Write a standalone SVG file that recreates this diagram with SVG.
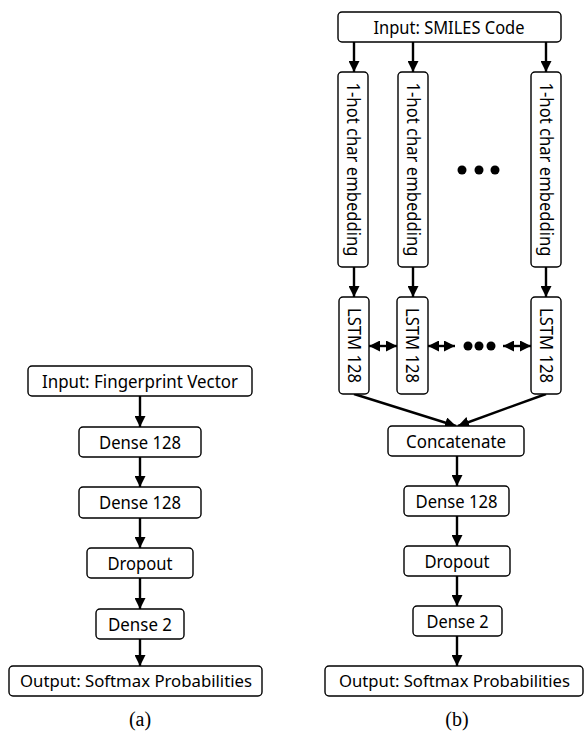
<svg xmlns="http://www.w3.org/2000/svg" width="585" height="737" viewBox="0 0 585 737">
<style>
.box{fill:#fff;stroke:#000;stroke-width:1.4}
.t{font-family:"Noto Sans","DejaVu Sans",sans-serif;font-size:18px;fill:#000;text-anchor:middle}
.o{font-size:16.5px}
.cap{font-family:"Liberation Serif","Times New Roman",serif;font-size:20px;fill:#000;text-anchor:middle}
.c{stroke:#000;stroke-width:2.4;fill:none}
</style>
<defs>
<marker id="ah" markerUnits="userSpaceOnUse" markerWidth="11" markerHeight="11" refX="10" refY="5" orient="auto-start-reverse" viewBox="0 0 10 10">
<path d="M0,0 L10,5 L0,10 z" fill="#000"/>
</marker>
</defs>
<rect width="585" height="737" fill="#fff"/>
<g id="connectors">
<line class="c" x1="140" y1="396" x2="140" y2="427" marker-end="url(#ah)"/>
<line class="c" x1="140" y1="457" x2="140" y2="487" marker-end="url(#ah)"/>
<line class="c" x1="140" y1="518" x2="140" y2="548" marker-end="url(#ah)"/>
<line class="c" x1="140" y1="578" x2="140" y2="609" marker-end="url(#ah)"/>
<line class="c" x1="140" y1="639" x2="140" y2="666" marker-end="url(#ah)"/>
<line class="c" x1="354" y1="42" x2="354" y2="72" marker-end="url(#ah)"/>
<line class="c" x1="413" y1="42" x2="413" y2="72" marker-end="url(#ah)"/>
<line class="c" x1="546" y1="42" x2="546" y2="72" marker-end="url(#ah)"/>
<line class="c" x1="354" y1="267" x2="354" y2="297" marker-end="url(#ah)"/>
<line class="c" x1="413" y1="267" x2="413" y2="297" marker-end="url(#ah)"/>
<line class="c" x1="546" y1="267" x2="546" y2="297" marker-end="url(#ah)"/>
<line class="c" x1="369" y1="346" x2="397" y2="346" marker-start="url(#ah)" marker-end="url(#ah)"/>
<line class="c" x1="428" y1="346" x2="455" y2="346" marker-start="url(#ah)" marker-end="url(#ah)"/>
<line class="c" x1="503" y1="346" x2="531" y2="346" marker-start="url(#ah)" marker-end="url(#ah)"/>
<line class="c" x1="354" y1="394" x2="456" y2="426" marker-end="url(#ah)"/>
<line class="c" x1="546" y1="394" x2="458" y2="426" marker-end="url(#ah)"/>
<line class="c" x1="457" y1="456" x2="457" y2="486" marker-end="url(#ah)"/>
<line class="c" x1="457" y1="516" x2="457" y2="546" marker-end="url(#ah)"/>
<line class="c" x1="457" y1="576" x2="457" y2="606" marker-end="url(#ah)"/>
<line class="c" x1="457" y1="636" x2="457" y2="666" marker-end="url(#ah)"/>
</g>
<g id="dots">
<circle cx="462" cy="170" r="4.5"/><circle cx="479" cy="170" r="4.5"/><circle cx="495" cy="170" r="4.5"/>
<circle cx="468" cy="346" r="4.5"/><circle cx="479" cy="346" r="4.5"/><circle cx="491" cy="346" r="4.5"/>
</g>
<g id="a_input"><rect class="box" x="28" y="366" width="224" height="30" rx="4"/><text class="t" x="140" y="388" textLength="196" lengthAdjust="spacingAndGlyphs">Input: Fingerprint Vector</text></g>
<g id="a_dense1"><rect class="box" x="79" y="427" width="122" height="30" rx="4"/><text class="t" x="140" y="448.5" textLength="82" lengthAdjust="spacingAndGlyphs">Dense 128</text></g>
<g id="a_dense2"><rect class="box" x="79" y="487" width="122" height="31" rx="4"/><text class="t" x="140" y="509" textLength="82" lengthAdjust="spacingAndGlyphs">Dense 128</text></g>
<g id="a_dropout"><rect class="box" x="87" y="548" width="106" height="30" rx="4"/><text class="t" x="140" y="569.5" textLength="65" lengthAdjust="spacingAndGlyphs">Dropout</text></g>
<g id="a_dense3"><rect class="box" x="96" y="609" width="88" height="30" rx="4"/><text class="t" x="140" y="630.5" textLength="64" lengthAdjust="spacingAndGlyphs">Dense 2</text></g>
<g id="a_output"><rect class="box" x="9" y="666" width="253" height="30" rx="4"/><text class="t o" x="136" y="687" textLength="232" lengthAdjust="spacingAndGlyphs">Output: Softmax Probabilities</text></g>
<text class="cap" x="140" y="726">(a)</text>
<g id="b_input"><rect class="box" x="338" y="12" width="223" height="30" rx="4"/><text class="t" x="449" y="33.5" textLength="151" lengthAdjust="spacingAndGlyphs">Input: SMILES Code</text></g>
<g id="b_emb1"><rect class="box" x="338" y="72" width="30" height="195" rx="4"/><text class="t" transform="translate(353,169.5) rotate(90)" x="0" y="6.5" textLength="174" lengthAdjust="spacingAndGlyphs">1-hot char embedding</text></g>
<g id="b_emb2"><rect class="box" x="398" y="72" width="30" height="195" rx="4"/><text class="t" transform="translate(413,169.5) rotate(90)" x="0" y="6.5" textLength="174" lengthAdjust="spacingAndGlyphs">1-hot char embedding</text></g>
<g id="b_emb3"><rect class="box" x="531" y="72" width="30" height="195" rx="4"/><text class="t" transform="translate(546,169.5) rotate(90)" x="0" y="6.5" textLength="174" lengthAdjust="spacingAndGlyphs">1-hot char embedding</text></g>
<g id="b_lstm1"><rect class="box" x="339" y="297" width="30" height="97" rx="4"/><text class="t" transform="translate(354,345.5) rotate(90)" x="0" y="6.5" textLength="75" lengthAdjust="spacingAndGlyphs">LSTM 128</text></g>
<g id="b_lstm2"><rect class="box" x="397" y="297" width="31" height="97" rx="4"/><text class="t" transform="translate(412.5,345.5) rotate(90)" x="0" y="6.5" textLength="75" lengthAdjust="spacingAndGlyphs">LSTM 128</text></g>
<g id="b_lstm3"><rect class="box" x="531" y="297" width="30" height="97" rx="4"/><text class="t" transform="translate(546,345.5) rotate(90)" x="0" y="6.5" textLength="75" lengthAdjust="spacingAndGlyphs">LSTM 128</text></g>
<g id="b_concat"><rect class="box" x="388" y="426" width="136" height="30" rx="4"/><text class="t" x="456" y="447.5" textLength="100" lengthAdjust="spacingAndGlyphs">Concatenate</text></g>
<g id="b_dense1"><rect class="box" x="404" y="486" width="105" height="30" rx="4"/><text class="t" x="456.5" y="507.5" textLength="82" lengthAdjust="spacingAndGlyphs">Dense 128</text></g>
<g id="b_dropout"><rect class="box" x="404" y="546" width="106" height="30" rx="4"/><text class="t" x="457" y="567.5" textLength="65" lengthAdjust="spacingAndGlyphs">Dropout</text></g>
<g id="b_dense2"><rect class="box" x="413" y="606" width="89" height="30" rx="4"/><text class="t" x="457.5" y="627.5" textLength="62" lengthAdjust="spacingAndGlyphs">Dense 2</text></g>
<g id="b_output"><rect class="box" x="325" y="666" width="258" height="30" rx="4"/><text class="t o" x="454.5" y="687" textLength="231" lengthAdjust="spacingAndGlyphs">Output: Softmax Probabilities</text></g>
<text class="cap" x="457" y="726">(b)</text>
</svg>
